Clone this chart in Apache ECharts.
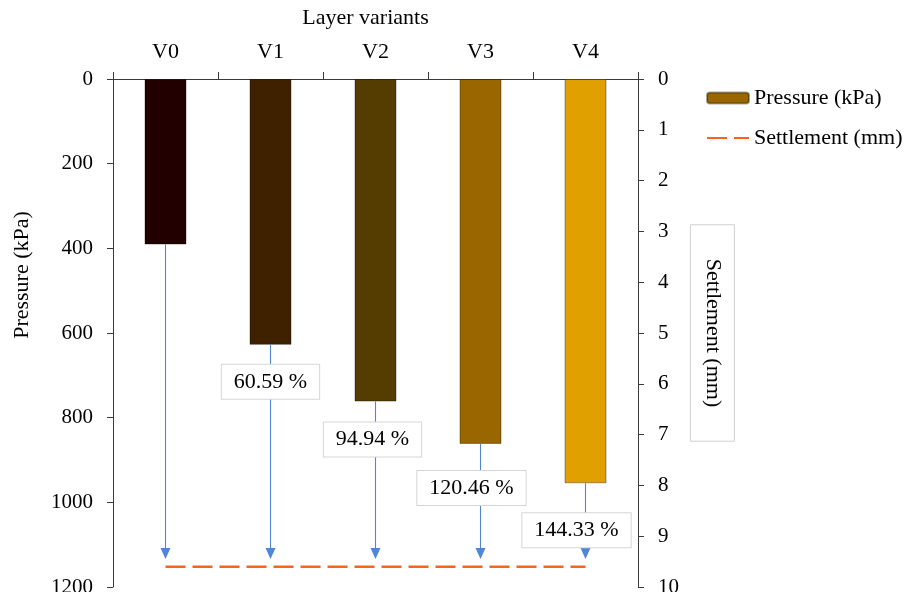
<!DOCTYPE html>
<html>
<head>
<meta charset="utf-8">
<script src="https://cdn.jsdelivr.net/npm/echarts@6/dist/echarts.min.js"></script>
<style>html,body{margin:0;padding:0;background:#fff;overflow:hidden}#c{width:908px;height:592px}</style>
</head>
<body>
<div id="c"></div>
<script>
const categories = ['V0', 'V1', 'V2', 'V3', 'V4'];
const pressure = [391, 628, 762, 862, 955];
const settlement = [9.6, 9.6, 9.6, 9.6, 9.6];
const increaseLabels = ['', '60.59 %', '94.94 %', '120.46 %', '144.33 %'];
const arrowEnd = [1121, 1121, 1121, 1121, 1121];
const barColors = ['#220000', '#3f2100', '#553c00', '#996600', '#e0a000'];
const labelDistance = [0, 20, 21, 27, 30];
const labelShift = [0, 0, -3, -9, -9];

const FONT = 'Liberation Serif';

const barData = pressure.map((v, i) => ({
  value: v,
  itemStyle: { color: barColors[i] },
  label: {
    show: increaseLabels[i] !== '',
    formatter: increaseLabels[i],
    distance: labelDistance[i],
    offset: [labelShift[i], 0]
  }
}));

const arrows = pressure.map((v, i) => [
  { coord: [categories[i], v], symbol: 'none' },
  { coord: [categories[i], arrowEnd[i]], symbol: 'triangle' }
]);

const chart = echarts.init(document.getElementById('c'));
chart.setOption({
  animation: false,
  backgroundColor: '#fff',
  textStyle: { fontFamily: FONT, color: '#000' },
  grid: { left: 113, right: 270, top: 79, bottom: 5, containLabel: false, outerBoundsMode: 'none' },
  legend: {
    orient: 'vertical',
    left: 701,
    top: 81,
    itemWidth: 42,
    itemHeight: 11,
    itemGap: 16,
    data: [
      { name: 'Pressure (kPa)' },
      { name: 'Settlement (mm)', itemStyle: { opacity: 0 } }
    ],
    textStyle: { fontFamily: FONT, fontSize: 22, color: '#000', lineHeight: 24 }
  },
  xAxis: {
    type: 'category',
    position: 'top',
    data: categories,
    name: 'Layer variants',
    nameLocation: 'middle',
    nameGap: 50,
    nameTextStyle: { fontFamily: FONT, fontSize: 22, color: '#000', padding: [0, 20, 0, 0] },
    axisLine: { lineStyle: { color: '#3a3a3a', width: 1 } },
    axisTick: { show: true, inside: false, length: 7, lineStyle: { color: '#3a3a3a' } },
    axisLabel: { fontFamily: FONT, fontSize: 22, color: '#000', margin: 16 },
    splitLine: { show: false }
  },
  yAxis: [
    {
      type: 'value',
      position: 'left',
      inverse: true,
      min: 0,
      max: 1200,
      interval: 200,
      name: 'Pressure (kPa)',
      nameLocation: 'middle',
      nameRotate: 90,
      nameGap: 80,
      nameTextStyle: { fontFamily: FONT, fontSize: 22, color: '#000', padding: [0, 0, 0, 116] },
      axisLine: { show: true, lineStyle: { color: '#3a3a3a', width: 1 } },
      axisTick: { show: true, inside: false, length: 6, lineStyle: { color: '#3a3a3a' } },
      axisLabel: { fontFamily: FONT, fontSize: 21, color: '#000', margin: 20, formatter: v => String(v) },
      splitLine: { show: false }
    },
    {
      type: 'value',
      position: 'right',
      inverse: true,
      min: 0,
      max: 10,
      interval: 1,
      name: 'Settlement (mm)',
      nameLocation: 'middle',
      nameRotate: -90,
      nameGap: 52,
      nameTextStyle: {
        fontFamily: FONT, fontSize: 22, color: '#000',
        borderColor: '#d0d0d0', borderWidth: 1, padding: [11, 34, 11, 34]
      },
      axisLine: { show: true, lineStyle: { color: '#3a3a3a', width: 1 } },
      axisTick: { show: true, inside: false, length: 6, lineStyle: { color: '#3a3a3a' } },
      axisLabel: { fontFamily: FONT, fontSize: 21, color: '#000', margin: 20, formatter: v => String(v) },
      splitLine: { show: false }
    }
  ],
  series: [
    {
      name: 'Pressure (kPa)',
      type: 'bar',
      yAxisIndex: 0,
      z: 2,
      barWidth: 42,
      data: barData,
      itemStyle: { color: '#996600', borderColor: 'rgba(0,0,0,0.35)', borderWidth: 1 },
      label: {
        position: 'bottom',
        fontFamily: FONT,
        fontSize: 22,
        color: '#000',
        backgroundColor: '#fff',
        borderColor: '#d6d6d6',
        borderWidth: 1,
        padding: [6, 12]
      },
      markLine: {
        z: 1,
        silent: true,
        symbolSize: [10, 11],
        label: { show: false },
        lineStyle: { color: '#4f86da', width: 1.1, type: 'solid' },
        emphasis: { disabled: true },
        data: arrows
      }
    },
    {
      name: 'Settlement (mm)',
      type: 'line',
      yAxisIndex: 1,
      z: 3,
      data: settlement,
      symbol: 'none',
      itemStyle: { color: '#f5661a' },
      lineStyle: { color: '#f5661a', width: 2.5, type: [20, 7] }
    }
  ]
});
</script>
</body>
</html>
